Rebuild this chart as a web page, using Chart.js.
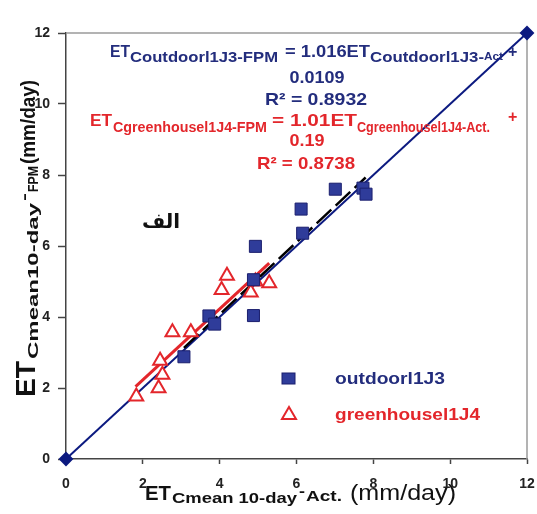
<!DOCTYPE html>
<html>
<head>
<meta charset="utf-8">
<title>ET FPM vs Act</title>
<script src="https://cdn.jsdelivr.net/npm/chart.js@4.4.0/dist/chart.umd.min.js"></script>
<style>
  body { margin: 0; background: #fff; }
</style>
</head>
<body>
<canvas id="graph1" width="537" height="514"></canvas>
<script>
// values (mm/day)
const outdoorX = [3.07, 3.72, 3.87, 4.88, 4.88, 4.93, 6.12, 6.16, 7.01, 7.73, 7.81];
const outdoorY = [2.88, 4.03, 3.80, 4.04, 5.05, 5.99, 7.04, 6.36, 7.60, 7.63, 7.46];
const greenX = [1.83, 2.41, 2.51, 2.45, 2.77, 3.25, 4.05, 4.19, 4.81, 4.93, 5.29];
const greenY = [1.76, 1.99, 2.37, 2.77, 3.57, 3.57, 4.76, 5.16, 4.69, 5.00, 4.95];
// trend line ends
const outdoorFitX = [3.07, 7.80];
const outdoorFitY = [3.13, 7.93];
const greenFitX = [1.81, 5.29];
const greenFitY = [2.04, 5.52];
const oneToOneX = [0, 12];
const oneToOneY = [0, 12];
const tickValues = [0, 2, 4, 6, 8, 10, 12];

const FONT = '"Liberation Sans", Arial, sans-serif';
const NAVY = '#232d7d';
const RED = '#e3262b';

const pts = (xs, ys) => xs.map((x, i) => ({ x: x, y: ys[i] }));

// draws a row of text pieces, each squeezed/stretched to a given width
function drawPieces(ctx, pieces, baseY, color) {
    ctx.fillStyle = color;
    ctx.textBaseline = 'alphabetic';
    ctx.textAlign = 'left';
    pieces.forEach(p => {
        ctx.font = (p.weight || 'bold') + ' ' + p.size + 'px ' + FONT;
        const m = ctx.measureText(p.t).width;
        const sx = p.w ? p.w / m : 1;
        let x = p.x;
        if (p.center) x = p.x - (p.w || m) / 2;
        ctx.save();
        ctx.translate(x, baseY + (p.dy || 0));
        ctx.scale(sx, 1);
        ctx.fillText(p.t, 0, 0);
        ctx.restore();
    });
}

const annotations = {
    id: 'annotations',
    beforeDatasetsDraw(chart) {
        const { ctx, chartArea: a } = chart;
        ctx.save();
        ctx.strokeStyle = '#9a9a9a';
        ctx.lineWidth = 1.5;
        ctx.beginPath();
        ctx.moveTo(a.left, a.top);
        ctx.lineTo(a.right, a.top);
        ctx.lineTo(a.right, a.bottom);
        ctx.stroke();
        ctx.restore();
    },
    afterDraw(chart) {
        const ctx = chart.ctx;
        ctx.save();

        // blue equation
        drawPieces(ctx, [
            { t: 'ET', size: 16, x: 110, w: 20 },
            { t: 'Coutdoorl1J3-FPM', size: 15, x: 130, w: 148, dy: 5 },
            { t: '= 1.016ET', size: 16, x: 285, w: 85 },
            { t: 'Coutdoorl1J3-', size: 15, x: 370, w: 114, dy: 5 },
            { t: 'Act', size: 11, x: 484, w: 19, dy: 3 },
            { t: '+', size: 16, x: 508 }
        ], 57, NAVY);
        drawPieces(ctx, [{ t: '0.0109', size: 17, x: 317, w: 55, center: true }], 83, NAVY);
        drawPieces(ctx, [{ t: 'R\u00b2 = 0.8932', size: 17, x: 316, w: 102, center: true }], 105, NAVY);

        // red equation
        drawPieces(ctx, [
            { t: 'ET', size: 16, x: 90, w: 22 },
            { t: 'Cgreenhousel1J4-FPM', size: 14, x: 113, w: 154, dy: 6 },
            { t: '= 1.01ET', size: 16, x: 272, w: 85 },
            { t: 'Cgreenhousel1J4-Act.', size: 14, x: 357, w: 133, dy: 6 }
        ], 126, RED);
        drawPieces(ctx, [{ t: '+', size: 16, x: 508 }], 122, RED);
        drawPieces(ctx, [{ t: '0.19', size: 17, x: 307, w: 35, center: true }], 146, RED);
        drawPieces(ctx, [{ t: 'R\u00b2 = 0.8738', size: 17, x: 306, w: 98, center: true }], 169, RED);

        // panel letter
        ctx.fillStyle = '#111';
        ctx.font = 'bold 20px "DejaVu Sans", sans-serif';
        ctx.textAlign = 'center';
        ctx.textBaseline = 'middle';
        ctx.fillText('\u0627\u0644\u0641', 161, 223);

        // legend
        ctx.fillStyle = '#2f3c9a';
        ctx.strokeStyle = '#1b1f6e';
        ctx.lineWidth = 1;
        ctx.fillRect(282, 373, 13, 11);
        ctx.strokeRect(282, 373, 13, 11);
        drawPieces(ctx, [{ t: 'outdoorl1J3', size: 16, x: 335, w: 110 }], 384, NAVY);
        ctx.strokeStyle = RED;
        ctx.lineWidth = 2;
        ctx.fillStyle = '#fff';
        ctx.beginPath();
        ctx.moveTo(289, 407);
        ctx.lineTo(296, 419);
        ctx.lineTo(282, 419);
        ctx.closePath();
        ctx.fill();
        ctx.stroke();
        drawPieces(ctx, [{ t: 'greenhousel1J4', size: 16, x: 335, w: 145 }], 420, RED);

        // x axis title
        drawPieces(ctx, [
            { t: 'ET', size: 20, x: 145, w: 26 },
            { t: 'Cmean 10-day', size: 14, x: 172, w: 125, dy: 3 },
            { t: '-', size: 14, x: 299, w: 6, dy: -4 },
            { t: 'Act.', size: 15, x: 306, w: 36, dy: 1 },
            { t: '(mm/day)', size: 22, x: 350, w: 106, weight: 'normal' }
        ], 500, '#111');

        // y axis title, rotated
        ctx.save();
        ctx.translate(35, 397);
        ctx.rotate(-Math.PI / 2);
        drawPieces(ctx, [
            { t: 'ET', size: 28, x: 0, w: 36 },
            { t: 'Cmean10-day', size: 15, x: 38, w: 156, dy: 3 },
            { t: '-', size: 15, x: 196, w: 8, dy: -6 },
            { t: 'FPM', size: 14, x: 205, w: 26, dy: 3 },
            { t: '(mm/day)', size: 21, x: 233, w: 84 }
        ], 0, '#111');
        ctx.restore();

        ctx.restore();
    }
};

const tickFont = { family: FONT, size: 14, weight: 'bold' };

new Chart('graph1', {
    type: 'scatter',
    data: {
        datasets: [
            {
                label: 'outdoorl1J3',
                data: pts(outdoorX, outdoorY),
                pointStyle: 'rect',
                pointRadius: 8.5,
                backgroundColor: '#2f3c9a',
                borderColor: '#1b1f6e',
                borderWidth: 1,
                order: 1
            },
            {
                label: 'greenhousel1J4',
                data: pts(greenX, greenY),
                pointStyle: 'triangle',
                pointRadius: 8,
                backgroundColor: '#ffffff',
                borderColor: RED,
                borderWidth: 2,
                order: 2
            },
            {
                label: 'greenhouse fit',
                data: pts(greenFitX, greenFitY),
                showLine: true,
                pointRadius: 0,
                borderColor: RED,
                borderWidth: 3,
                order: 3
            },
            {
                label: 'outdoor fit',
                data: pts(outdoorFitX, outdoorFitY),
                showLine: true,
                pointRadius: 0,
                borderColor: '#000',
                borderWidth: 2.5,
                borderDash: [20, 6],
                order: 4
            },
            {
                label: '1:1',
                data: pts(oneToOneX, oneToOneY),
                showLine: true,
                pointStyle: 'rectRot',
                pointRadius: 6,
                backgroundColor: '#0c1a80',
                borderColor: '#0c1a80',
                borderWidth: 2,
                clip: false,
                order: 5
            }
        ]
    },
    options: {
        responsive: false,
        animation: false,
        layout: { padding: { top: 33, right: 6.5, left: 0, bottom: 0 } },
        plugins: { legend: { display: false }, tooltip: { enabled: false } },
        scales: {
            x: {
                type: 'linear', min: 0, max: 12,
                afterBuildTicks: s => { s.ticks = tickValues.map(v => ({ value: v })); },
                ticks: { font: tickFont, color: '#222', padding: 12 },
                grid: { drawOnChartArea: false, drawTicks: true, tickLength: 5, color: '#444', tickWidth: 1.5 },
                border: { color: '#444', width: 1.5 },
                afterFit: s => { s.height = 55; s.paddingLeft = 0; s.paddingRight = 0; }
            },
            y: {
                type: 'linear', min: 0, max: 12,
                afterBuildTicks: s => { s.ticks = tickValues.map(v => ({ value: v })); },
                ticks: { font: tickFont, color: '#222', padding: 8 },
                grid: { drawOnChartArea: false, drawTicks: true, tickLength: 8, color: '#444', tickWidth: 1.5 },
                border: { color: '#444', width: 1.5 },
                afterFit: s => { s.width = 66; s.paddingTop = 0; s.paddingBottom = 0; }
            }
        }
    },
    plugins: [annotations]
});
</script>
</body>
</html>
